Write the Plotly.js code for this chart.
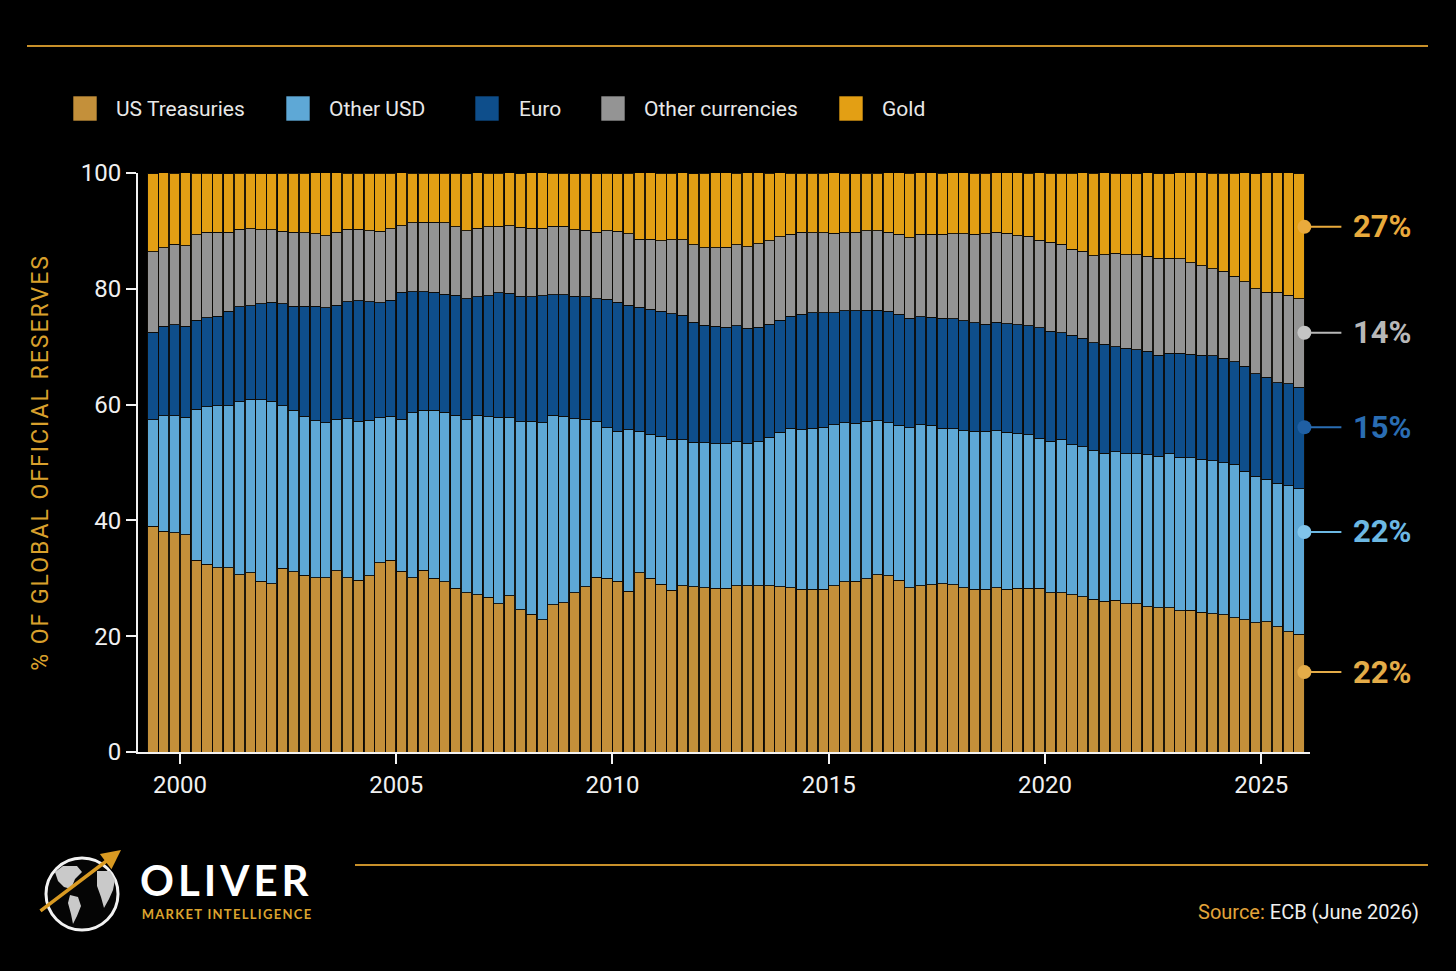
<!DOCTYPE html>
<html>
<head>
<meta charset="utf-8">
<script src="https://cdn.plot.ly/plotly-3.0.1.min.js"></script>
<style>
  html, body { margin: 0; padding: 0; background: #000; }
  #chart { width: 1456px; height: 971px; }
  .ytitle { letter-spacing: 2px; }
  g.annotation[data-index="5"] text { letter-spacing: 4px; }
  g.annotation[data-index="6"] text { letter-spacing: 1.3px; }
</style>
</head>
<body>
<div id="chart"></div>
<script>
// ---------------- DATA ----------------
const seriesNames = ['US Treasuries', 'Other USD', 'Euro', 'Other currencies', 'Gold'];
const seriesColors = ['#c4903a', '#5ea8d6', '#0e4e8b', '#949494', '#e39f14'];

// quarterly observations, 1999 Q2 .. 2025 Q4 (shares in %)
const firstYear = 1999, firstQuarter = 2, lastYear = 2025, lastQuarter = 4;

const usTreasuries = [
  39.0,38.1,37.9,37.5,33.1,32.4,31.8,31.8,30.6,31.0,
  29.5,29.1,31.7,31.1,30.5,30.1,30.1,31.3,30.1,29.7,
  30.4,32.7,33.1,31.2,30.1,31.4,30.0,29.4,28.3,27.5,
  27.2,26.7,25.6,27.0,24.6,23.8,22.8,25.4,25.8,27.5,
  28.5,30.2,30.0,29.5,27.8,31.0,30.0,29.0,27.9,28.7,
  28.5,28.4,28.3,28.3,28.7,28.7,28.7,28.7,28.5,28.4,
  28.1,28.1,28.1,28.7,29.4,29.5,29.9,30.6,30.4,29.7,
  28.4,28.7,28.9,29.1,28.9,28.4,28.1,28.1,28.4,28.1,
  28.3,28.3,28.3,27.5,27.5,27.2,26.8,26.4,26.0,26.2,
  25.6,25.6,25.1,24.9,24.9,24.4,24.5,24.1,23.9,23.7,
  23.2,22.8,22.3,22.5,21.6,20.8,20.3
];
const otherUsd = [
  18.4,20.0,20.2,20.3,26.1,27.2,28.0,28.0,29.9,29.9,
  31.3,31.5,28.1,27.9,27.5,27.1,26.8,26.2,27.5,27.4,
  26.9,25.0,24.9,26.3,28.5,27.6,29.0,29.3,29.9,29.9,
  31.0,31.2,32.2,30.8,32.4,33.3,34.1,32.8,32.2,30.1,
  29.0,26.9,26.0,25.9,27.9,24.4,24.9,25.5,26.1,25.2,
  25.0,25.0,24.9,24.9,24.9,24.6,24.9,25.7,26.7,27.5,
  27.6,27.8,28.0,27.8,27.5,27.3,27.2,26.6,26.5,26.7,
  27.6,27.8,27.5,26.8,26.9,27.1,27.3,27.3,27.1,27.1,
  26.7,26.5,25.9,26.2,26.5,25.9,25.9,25.6,25.6,25.7,
  25.9,25.9,26.2,26.2,26.6,26.5,26.3,26.5,26.4,26.3,
  26.5,25.7,25.3,24.6,24.8,25.2,25.2
];
const euro = [
  15.1,15.4,15.7,15.7,15.4,15.4,15.5,16.3,16.4,16.2,
  16.6,17.1,17.6,18.0,19.0,19.8,19.8,19.7,20.2,20.8,
  20.5,19.9,20.0,21.9,20.9,20.5,20.4,20.4,20.7,20.9,
  20.4,20.9,21.5,21.4,21.7,21.5,21.9,20.8,21.0,21.1,
  21.1,21.2,22.2,22.3,21.5,21.4,21.6,21.6,21.7,21.5,
  20.7,20.3,20.3,20.2,20.0,19.9,19.8,19.5,19.4,19.4,
  19.9,20.0,19.8,19.4,19.3,19.4,19.2,19.1,19.2,19.2,
  18.9,18.7,18.7,19.0,19.0,19.0,18.7,18.5,18.7,18.8,
  18.8,18.8,19.1,19.0,18.4,18.9,18.8,18.7,18.8,18.1,
  18.2,18.0,17.9,17.4,17.4,18.0,17.9,17.9,18.1,18.0,
  17.7,18.1,17.7,17.6,17.4,17.6,17.5
];
const otherCurrencies = [
  13.9,13.6,13.9,13.9,14.7,14.8,14.5,13.7,13.4,13.3,
  12.8,12.5,12.5,12.8,12.7,12.5,12.5,12.6,12.5,12.4,
  12.2,12.3,12.4,11.5,11.9,12.0,12.1,12.3,11.8,11.7,
  11.9,11.9,11.5,11.7,11.9,11.9,11.7,11.8,11.8,11.5,
  11.5,11.5,11.8,12.2,12.3,11.8,12.1,12.2,12.8,13.1,
  13.4,13.4,13.6,13.8,14.0,14.1,14.4,14.4,14.4,14.1,
  14.2,13.8,13.8,13.7,13.5,13.6,13.7,13.7,13.7,13.8,
  13.9,14.2,14.3,14.5,14.7,15.0,15.3,15.6,15.6,15.6,
  15.4,15.5,15.1,15.3,15.3,14.8,15.0,15.0,15.5,16.1,
  16.2,16.4,16.4,16.8,16.4,16.3,15.8,15.5,15.1,15.0,
  14.8,14.6,14.7,14.7,15.6,15.3,15.3
];
const gold = [
  13.5,13.0,12.3,12.7,10.7,10.2,10.1,10.1,9.7,9.6,
  9.7,9.7,10.1,10.2,10.3,10.6,10.9,10.3,9.7,9.7,
  10.0,10.1,9.6,9.2,8.6,8.5,8.5,8.6,9.3,9.9,
  9.6,9.3,9.2,9.2,9.3,9.6,9.6,9.2,9.2,9.7,
  9.9,10.1,10.0,10.0,10.5,11.5,11.5,11.7,11.5,11.6,
  12.3,12.9,13.0,12.9,12.4,12.8,12.3,11.7,11.1,10.6,
  10.2,10.3,10.3,10.5,10.3,10.1,10.0,10.0,10.3,10.7,
  11.2,10.7,10.7,10.6,10.6,10.6,10.6,10.5,10.3,10.5,
  10.9,10.9,11.7,12.0,12.3,13.2,13.6,14.3,14.2,13.9,
  14.0,14.0,14.5,14.6,14.6,14.9,15.7,16.1,16.5,17.0,
  17.8,18.9,19.9,20.7,20.7,21.2,21.6
];

// end-of-series callouts (as printed on the chart)
const endLabels = ['27%', '14%', '15%', '22%', '22%'];
const endLabelColors = ['#e9aa3c', '#b8b8b8', '#2a6db3', '#6cb8e3', '#e4ac48'];
const endDotColors = ['#e9aa3c', '#c4c4c4', '#1f5fa3', '#80c4ea', '#e4ac48'];
const endLabelLevels = [90.7, 72.4, 56.1, 38.0, 13.8];

const xTickYears = [2000, 2005, 2010, 2015, 2020, 2025];
const yTicks = [0, 20, 40, 60, 80, 100];

// ---------------- CATEGORIES ----------------
const quarterLabels = [];
const quarterPos = [];
for (let y = firstYear; y <= lastYear; y++) {
  for (let q = 1; q <= 4; q++) {
    if (y === firstYear && q < firstQuarter) continue;
    if (y === lastYear && q > lastQuarter) continue;
    quarterLabels.push(y + ' Q' + q);
    quarterPos.push(y + (q - 1) / 4 + 0.125);   // mid-quarter
  }
}
const seriesValues = [usTreasuries, otherUsd, euro, otherCurrencies, gold];
const seriesEnd = quarterPos[quarterPos.length - 1] + 0.125;

// ---------------- TRACES ----------------
const traces = seriesValues.map((vals, k) => ({
  type: 'bar',
  name: seriesNames[k],
  x: quarterPos,
  y: vals,
  text: quarterLabels,
  hovertemplate: '%{text}<br>' + seriesNames[k] + ': %{y:.1f}%<extra></extra>',
  textposition: 'none',
  marker: {
    color: seriesColors[k],
    line: { color: 'rgba(12,10,6,0.9)', width: 1 }
  },
  showlegend: false
}));

traces.push({
  type: 'scatter',
  mode: 'markers',
  x: endLabelLevels.map(() => seriesEnd),
  y: endLabelLevels,
  marker: { color: endDotColors, size: 14 },
  cliponaxis: false,
  hoverinfo: 'skip',
  showlegend: false
});

// ---------------- LAYOUT HELPERS ----------------
const L = 138, R = 1310, T = 173, B = 752;
const px = x => (x - L) / (R - L);
const py = y => (B - y) / (B - T);
const poly = pts => 'M' + pts.map(p => px(p[0]).toFixed(5) + ',' + py(p[1]).toFixed(5)).join(' L') + ' Z';

const shapes = [];
const annotations = [];

// rules
shapes.push({ type: 'line', xref: 'paper', yref: 'paper', x0: px(27), x1: px(1428), y0: py(46), y1: py(46),
  line: { color: '#c8902a', width: 2 } });
shapes.push({ type: 'line', xref: 'paper', yref: 'paper', x0: px(355), x1: px(1428), y0: py(865), y1: py(865),
  line: { color: '#c8902a', width: 2 } });

// custom legend
const legendSquareX = [73, 286, 475, 601, 839];
const legendTextX = [114, 327, 517, 642, 880];
seriesNames.forEach((name, k) => {
  shapes.push({ type: 'rect', xref: 'paper', yref: 'paper',
    x0: px(legendSquareX[k]), x1: px(legendSquareX[k] + 24), y0: py(121), y1: py(96),
    fillcolor: seriesColors[k], line: { color: 'rgba(0,0,0,0.6)', width: 1 } });
});

// logo globe
shapes.push({ type: 'circle', xref: 'paper', yref: 'paper', x0: px(46), x1: px(118), y0: py(930), y1: py(858),
  line: { color: '#f2f2f2', width: 3 }, fillcolor: '#050505' });
shapes.push({ type: 'path', xref: 'paper', yref: 'paper', fillcolor: '#c9c9c9', line: { width: 0 },
  path: poly([[55,872],[63,866],[77,866],[82,872],[75,879],[71,889],[64,887],[58,881]]) });
shapes.push({ type: 'path', xref: 'paper', yref: 'paper', fillcolor: '#c9c9c9', line: { width: 0 },
  path: poly([[70,895],[78,897],[81,906],[77,916],[73,924],[71,914],[68,903]]) });
shapes.push({ type: 'path', xref: 'paper', yref: 'paper', fillcolor: '#c9c9c9', line: { width: 0 },
  path: poly([[97,871],[110,871],[115,880],[113,890],[109,899],[104,908],[101,897],[97,886]]) });

// annotations: legend texts (indices 0-4)
seriesNames.forEach((name, k) => {
  annotations.push({ xref: 'paper', yref: 'paper', x: px(legendTextX[k]), y: py(108.5),
    xanchor: 'left', yanchor: 'middle', showarrow: false, text: name,
    font: { family: 'Roboto, sans-serif', size: 21, color: '#e8e8e8' } });
});
// 5: OLIVER (centred so the letter spacing grows evenly)
annotations.push({ xref: 'paper', yref: 'paper', x: px(227), y: py(880), xanchor: 'center', yanchor: 'middle',
  showarrow: false, text: 'OLIVER', font: { family: 'Lato, sans-serif', size: 42, color: '#ffffff', weight: 700 } });
// 6: MARKET INTELLIGENCE
annotations.push({ xref: 'paper', yref: 'paper', x: px(227), y: py(914), xanchor: 'center', yanchor: 'middle',
  showarrow: false, text: 'MARKET INTELLIGENCE', font: { family: 'Lato, sans-serif', size: 13, color: '#dca42e', weight: 700 } });
// 7: arrow of the logo
annotations.push({ xref: 'paper', yref: 'paper', x: px(121), y: py(850), ax: -82, ay: 62, text: '',
  showarrow: true, arrowhead: 2, arrowsize: 1.1, arrowwidth: 3.5, arrowcolor: '#d99a22' });
// 8: source
annotations.push({ xref: 'paper', yref: 'paper', x: px(1421), y: py(912), xanchor: 'right', yanchor: 'middle',
  showarrow: false, text: '<span style="color:#e3a43a">Source:</span> ECB (June 2026)',
  font: { family: 'Roboto, sans-serif', size: 20, color: '#f0f0f0' } });
// end callouts
endLabels.forEach((lab, k) => {
  annotations.push({ xref: 'x', yref: 'y', x: seriesEnd, y: endLabelLevels[k], ax: 78, ay: 0,
    text: lab, showarrow: true, arrowhead: 0, arrowwidth: 2, arrowcolor: endLabelColors[k],
    standoff: 6, startstandoff: 10,
    font: { family: 'Roboto, sans-serif', size: 31, color: endLabelColors[k], weight: 700 } });
});

const axisCommon = {
  showline: true, linecolor: '#f2f2f2', linewidth: 2,
  ticks: 'outside', ticklen: 10, tickwidth: 2, tickcolor: '#f2f2f2',
  tickfont: { family: 'Roboto, sans-serif', size: 24, color: '#f0f0f0' },
  showgrid: false, zeroline: false, fixedrange: true
};

const layout = {
  width: 1456, height: 971,
  paper_bgcolor: '#000', plot_bgcolor: '#000',
  margin: { l: L, r: 1456 - R, t: T, b: 971 - B, pad: 0 },
  barmode: 'stack', bargap: 0.06,
  showlegend: false,
  xaxis: Object.assign({}, axisCommon, {
    range: [1999.03, 2026.13],
    tickmode: 'array', tickvals: xTickYears, ticktext: xTickYears.map(String)
  }),
  yaxis: Object.assign({}, axisCommon, {
    range: [0, 100],
    tickmode: 'array', tickvals: yTicks, ticktext: yTicks.map(String),
    title: { text: '% OF GLOBAL OFFICIAL RESERVES', standoff: 26,
      font: { family: 'Roboto, sans-serif', size: 23, color: '#d9a02c' } }
  }),
  shapes: shapes,
  annotations: annotations,
  hovermode: 'closest'
};

Plotly.newPlot('chart', traces, layout, { displayModeBar: false, staticPlot: false });
</script>
</body>
</html>
